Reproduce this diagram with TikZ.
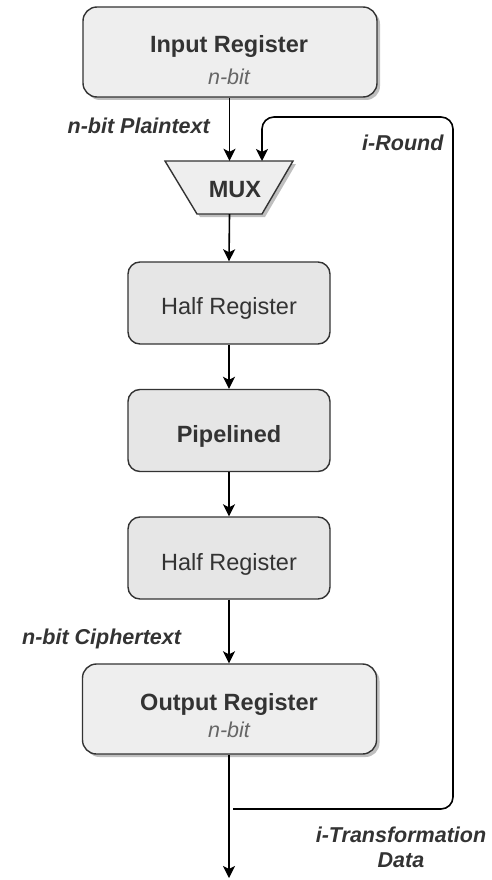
\documentclass[tikz,border=0pt]{standalone}
\usepackage{fontspec}
\setmainfont{Liberation Sans}
\usetikzlibrary{arrows.meta,shadows,positioning}
\definecolor{txt}{HTML}{333333}
\definecolor{subtxt}{HTML}{666666}
\definecolor{edge}{HTML}{333333}
\definecolor{fillA}{HTML}{EEEEEE}
\definecolor{fillB}{HTML}{E6E6E6}
\tikzset{
  regbox/.style={draw=edge, line width=1.4pt, fill=fillA, rounded corners=14pt,
    minimum width=294pt, minimum height=90pt, inner sep=0pt,
    drop shadow={shadow xshift=3pt, shadow yshift=-3pt, fill=black, opacity=0.25}},
  halfbox/.style={draw=edge, line width=1.4pt, fill=fillB, rounded corners=12pt,
    minimum width=202pt, minimum height=82pt, inner sep=0pt},
  maintxt/.style={text=txt, font=\fontsize{23.5}{26}\selectfont, anchor=base, inner sep=0pt},
  boldtxt/.style={maintxt, font=\fontsize{23.5}{26}\selectfont\bfseries},
  subtext/.style={text=subtxt, font=\fontsize{21.5}{24}\selectfont\itshape, anchor=base, inner sep=0pt},
  lbl/.style={text=txt, font=\fontsize{21.5}{25}\selectfont\bfseries\itshape, inner sep=0pt},
  conn/.style={draw=black, line width=1.6pt, -{Stealth[length=12pt,width=12pt,inset=3pt]}},
}
\begin{document}
\begin{tikzpicture}[x=1pt,y=-1pt]
\useasboundingbox (0,0) rectangle (492,880);
% boxes
\node[regbox] (inreg) at (230,52) {};
\node[boldtxt] (inregt) at (229,53) {Input Register};
\node[subtext] (inregs) at (229,85) {n-bit};
% MUX
\node[inner sep=0pt, minimum width=65pt, minimum height=53pt] (mux) at (229.5,187.5) {};
\fill[black, opacity=0.25] (168,164) -- (296,164) -- (265,217) -- (200,217) -- cycle;
\draw[edge, line width=1.4pt, fill=fillA] (165,161) -- (293,161) -- (262,214) -- (197,214) -- cycle;
\node[boldtxt] (muxt) at (235,197) {MUX};
% half registers and pipeline
\node[halfbox] (half1) at (229,303) {};
\node[maintxt] (half1t) at (229,314) {Half Register};
\node[halfbox] (pipe) at (229,430.5) {};
\node[boldtxt] (pipet) at (229,442) {Pipelined};
\node[halfbox] (half2) at (229,558) {};
\node[maintxt] (half2t) at (229,570) {Half Register};
% output register
\node[regbox] (outreg) at (229.5,709) {};
\node[boldtxt] (outregt) at (229,710) {Output Register};
\node[subtext] (outregs) at (229,737) {n-bit};
% connectors
\coordinate (outend) at (229,878);
\coordinate (loopstart) at (233,809);
\coordinate (muxin) at (262,161);
\draw[conn] (inreg.south -| mux.north) -- (mux.north);
\draw[conn] (mux.south) -- (half1.north);
\draw[conn] (half1.south) -- (pipe.north);
\draw[conn] (pipe.south) -- (half2.north);
\draw[conn] (half2.south) -- (half2.south |- outreg.north);
\draw[conn] (outreg.south -| outend) -- (outend);
\draw[conn, rounded corners=12pt] (loopstart) -- (453,809) -- (453,117) -- (262,117) -- (muxin);
% labels
\node[lbl, anchor=base east] (plain) at (210,133) {n-bit Plaintext};
\node[lbl, anchor=base west] (cipher) at (22,644) {n-bit Ciphertext};
\node[lbl, anchor=base west] (round) at (362,150) {i-Round};
\node[lbl, anchor=base] (trans1) at (401,842) {i-Transformation};
\node[lbl, anchor=base] (trans2) at (401,867) {Data};
\end{tikzpicture}
\end{document}
